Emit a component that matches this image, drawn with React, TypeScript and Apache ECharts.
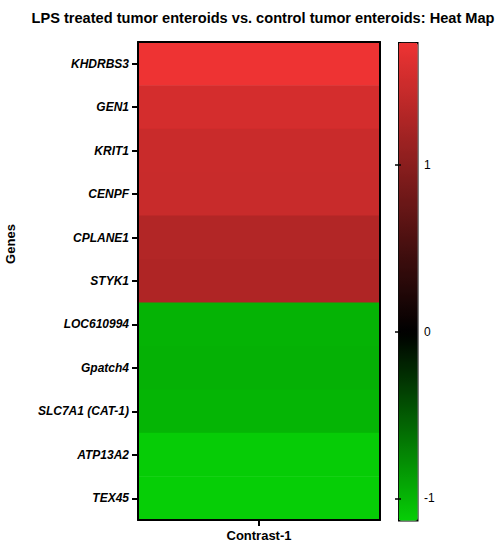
import React, { useEffect, useRef } from "react";
import * as echarts from "echarts";

const genes = [
  "KHDRBS3",
  "GEN1",
  "KRIT1",
  "CENPF",
  "CPLANE1",
  "STYK1",
  "LOC610994",
  "Gpatch4",
  "SLC7A1 (CAT-1)",
  "ATP13A2",
  "TEX45",
];
const values = [1.74, 1.55, 1.47, 1.46, 1.3, 1.28, -0.98, -0.97, -0.99, -1.12, -1.13];
const contrasts = ["Contrast-1"];
const scaleMin = -1.13;
const scaleMax = 1.74;
const colorTicks = [-1, 0, 1];

const FONT = "Liberation Sans, Arial, Helvetica, sans-serif";

function colorAt(v: number): string {
  let r = 0, g = 0, b = 0;
  if (v >= 0) {
    const t = v / scaleMax;
    r = Math.round(238 * t);
    g = Math.round(51 * t);
    b = Math.round(51 * t);
  } else {
    const t = v / scaleMin;
    g = Math.round(206 * t);
    r = Math.round(6 * t);
    b = Math.round(6 * t);
  }
  const h = (n: number) => n.toString(16).padStart(2, "0");
  return "#" + h(r) + h(g) + h(b);
}

export default function App() {
  const ref = useRef<HTMLDivElement>(null);
  useEffect(() => {
    if (!ref.current) return;
    const chart = echarts.init(ref.current, undefined, { renderer: "svg" });
    const stops: string[] = [];
    const N = 60;
    for (let i = 0; i <= N; i++) {
      stops.push(colorAt(scaleMin + ((scaleMax - scaleMin) * i) / N));
    }
    const data = values.map((v, i) => [0, i, v]);
    chart.setOption({
      animation: false,
      backgroundColor: "#fff",
      textStyle: { fontFamily: FONT },
      title: {
        text: "LPS treated tumor enteroids vs. control tumor enteroids: Heat Map",
        left: 258,
        textAlign: "center",
        top: 5,
        textStyle: { fontFamily: FONT, fontSize: 14.6, fontWeight: "bold", color: "#000" },
      },
      grid: [
        { left: 138, right: 116, top: 42, bottom: 30, containLabel: false },
        { left: 398, top: 42, width: 19, height: 478, show: false },
      ],
      xAxis: [
        {
          type: "category",
          gridIndex: 0,
          data: contrasts,
          position: "bottom",
          z: 5,
          axisLine: { show: true, lineStyle: { color: "#000", width: 2 } },
          axisTick: { show: true, interval: 0, alignWithLabel: true, length: 6, lineStyle: { color: "#000", width: 2 } },
          axisLabel: { fontFamily: FONT, fontSize: 13, fontWeight: "bold", color: "#000", margin: 9 },
        },
        {
          type: "category",
          gridIndex: 0,
          data: contrasts,
          position: "top",
          z: 5,
          axisLine: { show: true, lineStyle: { color: "#000", width: 2 } },
          axisTick: { show: false },
          axisLabel: { show: false },
        },
        { type: "value", gridIndex: 1, min: 0, max: 1, show: false },
      ],
      yAxis: [
        {
          type: "category",
          gridIndex: 0,
          data: genes,
          inverse: true,
          position: "left",
          z: 5,
          axisLine: { show: true, lineStyle: { color: "#000", width: 2 } },
          axisTick: { show: true, interval: 0, alignWithLabel: true, length: 6, lineStyle: { color: "#000", width: 2 } },
          axisLabel: {
            interval: 0,
            fontFamily: FONT,
            fontSize: 12,
            fontWeight: "bold",
            fontStyle: "italic",
            color: "#000",
            margin: 9,
          },
        },
        {
          type: "category",
          gridIndex: 0,
          data: genes,
          inverse: true,
          position: "right",
          z: 5,
          axisLine: { show: true, lineStyle: { color: "#000", width: 2 } },
          axisTick: { show: false },
          axisLabel: { show: false },
        },
        {
          type: "value",
          gridIndex: 1,
          min: scaleMin,
          max: scaleMax,
          position: "right",
          z: 10,
          axisLine: { show: false },
          splitLine: { show: false },
          axisTick: {
            show: true,
            inside: true,
            length: 3,
            customValues: colorTicks,
            lineStyle: { color: "#000", width: 1.5 },
          },
          axisLabel: {
            customValues: colorTicks,
            fontFamily: FONT,
            fontSize: 12,
            color: "#000",
            margin: 7,
          },
        },
        {
          type: "value",
          gridIndex: 1,
          min: scaleMin,
          max: scaleMax,
          position: "left",
          z: 10,
          axisLine: { show: false },
          splitLine: { show: false },
          axisTick: {
            show: true,
            inside: true,
            length: 3,
            customValues: colorTicks,
            lineStyle: { color: "#000", width: 1.5 },
          },
          axisLabel: { show: false },
        },
      ],
      visualMap: {
        type: "continuous",
        seriesIndex: 0,
        min: scaleMin,
        max: scaleMax,
        calculable: false,
        orient: "vertical",
        left: 398,
        top: 42,
        itemWidth: 19,
        itemHeight: 478,
        padding: 0,
        text: null,
        showLabel: false,
        borderColor: "#000",
        borderWidth: 1.5,
        inRange: { color: stops },
        hoverLink: false,
      },
      graphic: [
        {
          type: "text",
          x: 10,
          y: 244,
          rotation: Math.PI / 2,
          style: {
            text: "Genes",
            fontFamily: FONT,
            fontSize: 13,
            fontWeight: "bold",
            fill: "#000",
            align: "center",
            verticalAlign: "middle",
          },
        },
      ],
      series: [
        {
          type: "heatmap",
          xAxisIndex: 0,
          yAxisIndex: 0,
          data,
          itemStyle: { borderWidth: 0 },
          emphasis: { disabled: true },
        },
      ],
    });
    return () => chart.dispose();
  }, []);
  return (
    <div
      ref={ref}
      style={{ position: "fixed", left: 0, top: 0, width: 496, height: 550 }}
    />
  );
}
